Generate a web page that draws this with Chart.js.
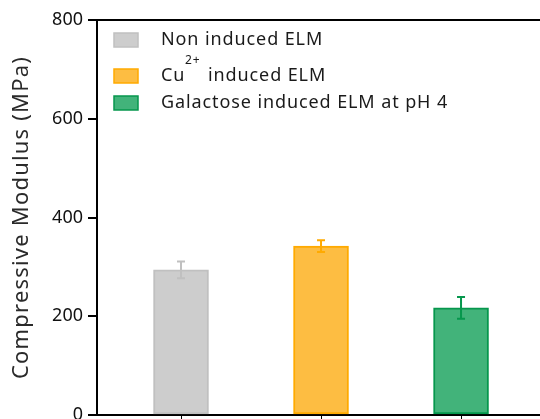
<!DOCTYPE html>
<html lang="en">
<head>
    <meta charset="UTF-8">
    <title>Compressive Modulus</title>
    <style>
        body {
            margin: 0;
            padding: 0;
            background: #ffffff;
            overflow: hidden;
        }

        .wrap {
            width: 540px;
            height: 419px;
            position: relative;
        }
    </style>
</head>
<body>
    <div class="wrap">
        <canvas id="modulusChart" width="540" height="419"></canvas>
    </div>

    <script src="https://cdn.jsdelivr.net/npm/chart.js"></script>
    <script>
        // Data
        const groups = ['Non induced ELM', 'Cu2+ induced ELM', 'Galactose induced ELM at pH 4'];
        const legendMain = ['Non induced ELM', 'Cu', 'Galactose induced ELM at pH 4'];
        const legendSup = ['', '2+', ''];
        const legendTail = ['', 'induced ELM', ''];
        const positions = [1, 2, 3];
        const modulus = [294, 342, 217];
        const errors = [17, 12, 22];
        const yTicks = [0, 200, 400, 600, 800];
        const yTitle = 'Compressive Modulus (MPa)';

        const fills = ['#cdcdcd', '#fdbd42', '#42b37a'];
        const strokes = ['#c0c0c0', '#ffaa00', '#06974d'];

        const FONT = '"Noto Sans", sans-serif';

        // error bars on top of each bar
        const errorBars = {
            id: 'errorBars',
            afterDatasetsDraw(chart) {
                const ctx = chart.ctx;
                const xs = chart.scales.x, ys = chart.scales.y;
                ctx.save();
                ctx.lineWidth = 2;
                groups.forEach((g, i) => {
                    const x = xs.getPixelForValue(positions[i]);
                    const top = ys.getPixelForValue(modulus[i] + errors[i]);
                    const bot = ys.getPixelForValue(modulus[i] - errors[i]);
                    ctx.strokeStyle = strokes[i];
                    ctx.beginPath();
                    ctx.moveTo(x, top); ctx.lineTo(x, bot);
                    ctx.moveTo(x - 4, top); ctx.lineTo(x + 4, top);
                    ctx.moveTo(x - 4, bot); ctx.lineTo(x + 4, bot);
                    ctx.stroke();
                });
                ctx.restore();
            }
        };

        // frame line on top, axis title and legend with superscript
        const frameAndLegend = {
            id: 'frameAndLegend',
            afterDraw(chart) {
                const ctx = chart.ctx;
                const area = chart.chartArea;
                ctx.save();
                ctx.strokeStyle = '#000';
                ctx.lineWidth = 2;
                ctx.beginPath();
                ctx.moveTo(area.left - 1, area.top);
                ctx.lineTo(area.right, area.top);
                ctx.stroke();

                // y title (wider tracking, like the original font)
                ctx.save();
                ctx.translate(22, (area.top + area.bottom) / 2);
                ctx.rotate(-Math.PI / 2);
                ctx.font = '22px ' + FONT;
                ctx.letterSpacing = '1.2px';
                ctx.fillStyle = '#2a2a2a';
                ctx.textAlign = 'center';
                ctx.textBaseline = 'middle';
                ctx.fillText(yTitle, 0, 0);
                ctx.restore();

                const rowsY = [40, 76, 103];
                ctx.textBaseline = 'middle';
                ctx.textAlign = 'left';
                ctx.letterSpacing = '0.9px';
                legendMain.forEach((txt, i) => {
                    const y = rowsY[i];
                    ctx.fillStyle = fills[i];
                    ctx.fillRect(114, y - 7, 24, 14);
                    ctx.strokeStyle = strokes[i];
                    ctx.lineWidth = 1.5;
                    ctx.strokeRect(114, y - 7, 24, 14);

                    ctx.fillStyle = '#1a1a1a';
                    ctx.font = '18px ' + FONT;
                    ctx.fillText(txt, 161, y);
                    if (legendSup[i]) {
                        ctx.font = '12px ' + FONT;
                        ctx.fillText(legendSup[i], 185, y - 15);
                        ctx.font = '18px ' + FONT;
                        ctx.fillText(legendTail[i], 208, y);
                    }
                });
                ctx.restore();
            }
        };

        const datasets = groups.map((g, i) => ({
            label: g,
            data: [{ x: positions[i], y: modulus[i] }],
            backgroundColor: fills[i],
            borderColor: strokes[i],
            borderWidth: 2,
            borderSkipped: false,
            barThickness: 55,
            grouped: false
        }));

        const ctx = document.getElementById('modulusChart').getContext('2d');
        new Chart(ctx, {
            type: 'bar',
            data: { datasets: datasets },
            options: {
                responsive: false,
                animation: false,
                layout: { padding: { top: 20, right: 0, left: 0, bottom: 0 } },
                plugins: {
                    legend: { display: false },
                    tooltip: { enabled: false }
                },
                scales: {
                    x: {
                        type: 'linear',
                        offset: false,
                        min: 0.4,
                        max: 3.564,
                        afterBuildTicks: (s) => { s.ticks = positions.map(v => ({ value: v })); },
                        ticks: {
                            callback: () => ''
                        },
                        grid: { offset: false, drawOnChartArea: false, drawTicks: true, tickLength: 6, color: '#000', lineWidth: 1 },
                        border: { color: '#000', width: 2 },
                        afterFit: (s) => { s.height = 4; s.paddingLeft = 0; s.paddingRight = 0; }
                    },
                    y: {
                        min: 0,
                        max: 800,
                        afterBuildTicks: (s) => { s.ticks = yTicks.map(v => ({ value: v })); },
                        ticks: {
                            color: '#111',
                            padding: 5,
                            font: { family: FONT, size: 18 }
                        },
                        grid: { drawOnChartArea: false, drawTicks: true, tickLength: 9, color: '#000', lineWidth: 2 },
                        border: { color: '#000', width: 2 },
                        afterFit: (s) => { s.width = 97; s.paddingTop = 0; s.paddingBottom = 0; }
                    }
                }
            },
            plugins: [errorBars, frameAndLegend]
        });
    </script>
</body>
</html>
